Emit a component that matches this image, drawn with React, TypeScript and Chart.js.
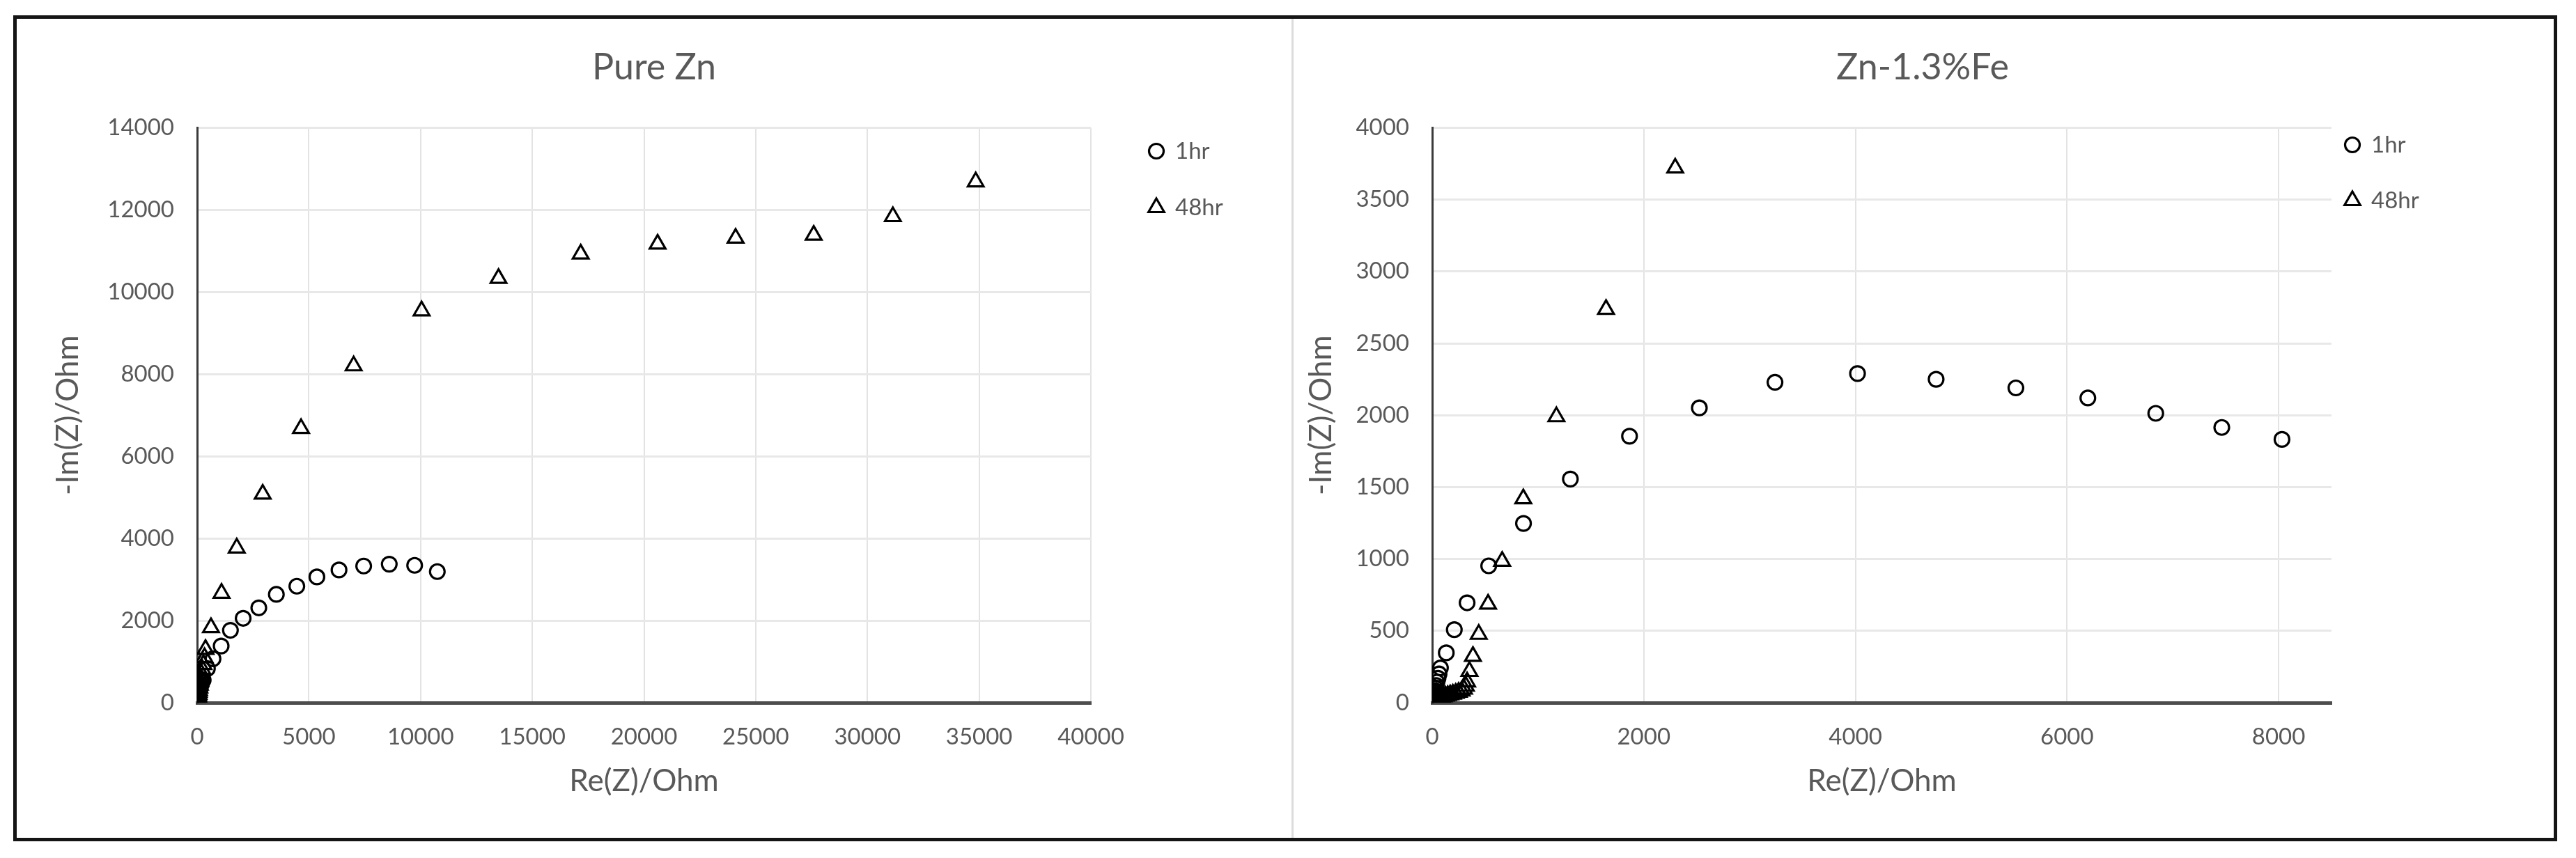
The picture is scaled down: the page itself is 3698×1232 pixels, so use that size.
import React, { useEffect, useRef } from 'react';
import { Chart, registerables } from 'chart.js';

Chart.register(...registerables);

// ---------- Data: Pure Zn ----------
const pureZn1hrRe = [3, 5, 7, 9, 12, 15, 18, 22, 26, 31, 37, 44, 52, 62, 74, 88, 105, 125, 150, 180, 220, 271, 460, 710, 1075, 1490, 2060, 2760, 3545, 4462, 5360, 6350, 7454, 8599, 9735, 10749];
const pureZn1hrIm = [2, 5, 9, 14, 20, 28, 38, 50, 64, 80, 100, 122, 148, 178, 212, 250, 292, 338, 390, 448, 500, 550, 830, 1070, 1380, 1763, 2055, 2310, 2638, 2836, 3062, 3232, 3328, 3373, 3345, 3192];
const pureZn48hrRe = [3, 5, 8, 11, 15, 19, 24, 30, 37, 45, 55, 67, 80, 96, 115, 138, 165, 197, 235, 280, 330, 374, 620, 1092, 1773, 2935, 4650, 7005, 10047, 13488, 17167, 20608, 24100, 27595, 31139, 34846];
const pureZn48hrIm = [3, 8, 15, 25, 38, 55, 75, 100, 130, 165, 205, 250, 300, 360, 430, 510, 600, 700, 810, 930, 1100, 1300, 1830, 2666, 3768, 5080, 6678, 8203, 9542, 10334, 10927, 11169, 11311, 11385, 11836, 12683];

// ---------- Data: Zn-1.3%Fe ----------
const znFe1hrRe = [3, 5, 7, 9, 11, 13, 15, 17, 20, 23, 27, 32, 38, 45, 55, 65, 78, 133, 209, 330, 534, 863, 1306, 1865, 2525, 3240, 4020, 4763, 5517, 6197, 6839, 7463, 8032];
const znFe1hrIm = [2, 5, 9, 14, 20, 27, 35, 44, 55, 68, 83, 100, 120, 143, 170, 200, 242, 347, 508, 695, 952, 1247, 1556, 1854, 2051, 2229, 2290, 2250, 2190, 2120, 2013, 1915, 1832];
const znFe48hrRe = [5, 10, 16, 23, 31, 40, 50, 62, 75, 90, 107, 126, 147, 170, 195, 222, 250, 278, 300, 318, 330, 352, 385, 440, 528, 661, 861, 1174, 1643, 2297];
const znFe48hrIm = [3, 6, 10, 14, 18, 22, 26, 30, 34, 38, 42, 46, 50, 55, 60, 66, 73, 82, 95, 115, 145, 218, 323, 476, 686, 984, 1419, 1990, 2737, 3720];

// ---------- Labels / axes ----------
const seriesLabels = ['1hr', '48hr'];
const chartTitles = ['Pure Zn', 'Zn-1.3%Fe'];
const xAxisTitle = 'Re(Z)/Ohm';
const yAxisTitle = '-Im(Z)/Ohm';
const pureZnXTicks = [0, 5000, 10000, 15000, 20000, 25000, 30000, 35000, 40000];
const pureZnYTicks = [0, 2000, 4000, 6000, 8000, 10000, 12000, 14000];
const znFeXTicks = [0, 2000, 4000, 6000, 8000];
const znFeXMax = 8500;
const znFeYTicks = [0, 500, 1000, 1500, 2000, 2500, 3000, 3500, 4000];

const TEXT = '#595959';
const FONT = 'Lato, "Open Sans", sans-serif';

function zip(xs: number[], ys: number[]) {
  return xs.map((x, i) => ({ x, y: ys[i] }));
}

function drawMarker(ctx: CanvasRenderingContext2D, style: string, x: number, y: number, r: number, bw: number, color: string) {
  ctx.beginPath();
  if (style === 'triangle') {
    let rad = 0;
    for (let k = 0; k < 3; k++) {
      const px = x + Math.sin(rad) * r;
      const py = y - Math.cos(rad) * r;
      if (k === 0) ctx.moveTo(px, py);
      else ctx.lineTo(px, py);
      rad += (2 * Math.PI) / 3;
    }
    ctx.closePath();
  } else {
    ctx.arc(x, y, r, 0, 2 * Math.PI);
  }
  ctx.lineWidth = bw;
  ctx.strokeStyle = color;
  ctx.stroke();
}

const sideLegend = {
  id: 'sideLegend',
  afterDraw(chart: any, _args: any, opts: any) {
    const { ctx, chartArea } = chart;
    ctx.save();
    chart.data.datasets.forEach((ds: any, i: number) => {
      const x = chartArea.right + opts.dx;
      const y = opts.ys[i];
      drawMarker(ctx, ds.pointStyle, x, y, ds.pointRadius, ds.pointBorderWidth, ds.pointBorderColor);
      ctx.fillStyle = TEXT;
      ctx.font = `${opts.fontSize}px ${FONT}`;
      ctx.textBaseline = 'middle';
      ctx.textAlign = 'left';
      ctx.fillText(ds.label, x + opts.textGap, y);
    });
    ctx.restore();
  },
};

type PanelCfg = {
  title: string;
  d1: { x: number; y: number }[];
  d48: { x: number; y: number }[];
  xTicks: number[];
  xMax: number;
  yTicks: number[];
  yWidth: number;
  rightSpace: number;
  yTitlePad: number;
  legendDx: number;
  legendYs: number[];
};

function makeConfig(c: PanelCfg): any {
  const tickFont = { family: FONT, size: 33 };
  const titleFont = { family: FONT, size: 44 };
  return {
    type: 'scatter',
    data: {
      datasets: [
        {
          label: seriesLabels[0],
          data: c.d1,
          pointStyle: 'circle',
          pointRadius: 10.5,
          pointBorderWidth: 3.2,
          pointBorderColor: '#000000',
          pointBackgroundColor: 'rgba(0,0,0,0)',
          borderColor: '#000000',
          backgroundColor: 'rgba(0,0,0,0)',
          showLine: false,
        },
        {
          label: seriesLabels[1],
          data: c.d48,
          pointStyle: 'triangle',
          pointRadius: 13,
          pointBorderWidth: 3.2,
          pointBorderColor: '#000000',
          pointBackgroundColor: 'rgba(0,0,0,0)',
          borderColor: '#000000',
          backgroundColor: 'rgba(0,0,0,0)',
          showLine: false,
        },
      ],
    },
    options: {
      responsive: false,
      animation: false,
      devicePixelRatio: 1,
      layout: { padding: 0 },
      plugins: {
        legend: { display: false },
        tooltip: { enabled: false },
        title: {
          display: true,
          text: c.title,
          color: TEXT,
          font: { family: FONT, size: 52, weight: 'normal', lineHeight: 1.2 },
          padding: { top: 38, bottom: 55 },
        },
        sideLegend: { dx: c.legendDx, ys: c.legendYs, fontSize: 33, textGap: 27 },
      },
      scales: {
        x: {
          type: 'linear',
          min: c.xTicks[0],
          max: c.xMax,
          afterBuildTicks: (s: any) => {
            s.ticks = c.xTicks.map((v) => ({ value: v }));
          },
          ticks: {
            color: TEXT,
            font: tickFont,
            padding: 30,
            maxRotation: 0,
            autoSkip: false,
            callback: (v: any) => String(v),
          },
          grid: { color: '#e3e3e3', lineWidth: 2, drawTicks: false, z: -1 },
          border: { color: '#4d4d4d', width: 5 },
          title: { display: true, text: xAxisTitle, color: TEXT, font: titleFont, padding: { top: 0, bottom: 52 } },
          afterFit: (s: any) => {
            s.height = 191;
          },
        },
        y: {
          type: 'linear',
          min: c.yTicks[0],
          max: c.yTicks[c.yTicks.length - 1],
          afterBuildTicks: (s: any) => {
            s.ticks = c.yTicks.map((v) => ({ value: v }));
          },
          ticks: {
            color: TEXT,
            font: tickFont,
            padding: 33,
            autoSkip: false,
            callback: (v: any) => String(v),
          },
          grid: { color: '#e8e8e8', lineWidth: 3, drawTicks: false, z: -1 },
          border: { color: '#3a3a3a', width: 3 },
          title: { display: true, text: yAxisTitle, color: TEXT, font: titleFont, padding: { top: c.yTitlePad, bottom: 0 } },
          afterFit: (s: any) => {
            s.width = c.yWidth;
          },
        },
        // empty right-hand box that reserves the legend column beside the plot
        legendSpace: {
          type: 'linear',
          position: 'right',
          display: true,
          ticks: { display: false },
          grid: { display: false, drawTicks: false },
          border: { display: false },
          title: { display: false },
          afterFit: (s: any) => {
            s.width = c.rightSpace;
          },
        },
      },
    },
    plugins: [sideLegend],
  };
}

function Panel({ cfg, left, width }: { cfg: PanelCfg; left: number; width: number }) {
  const ref = useRef<HTMLCanvasElement>(null);
  useEffect(() => {
    const chart = new Chart(ref.current as HTMLCanvasElement, makeConfig(cfg));
    return () => chart.destroy();
  }, []);
  return (
    <canvas
      ref={ref}
      width={width}
      height={1172}
      style={{ position: 'absolute', left, top: 28, width, height: 1172, display: 'block' }}
    />
  );
}

const leftCfg: PanelCfg = {
  title: chartTitles[0],
  d1: zip(pureZn1hrRe, pureZn1hrIm),
  d48: zip(pureZn48hrRe, pureZn48hrIm),
  xTicks: pureZnXTicks,
  xMax: pureZnXTicks[pureZnXTicks.length - 1],
  yTicks: pureZnYTicks,
  yWidth: 259,
  rightSpace: 288,
  yTitlePad: 47,
  legendDx: 94,
  legendYs: [189, 270],
};

const rightCfg: PanelCfg = {
  title: chartTitles[1],
  d1: zip(znFe1hrRe, znFe1hrIm),
  d48: zip(znFe48hrRe, znFe48hrIm),
  xTicks: znFeXTicks,
  xMax: znFeXMax,
  yTicks: znFeYTicks,
  yWidth: 198,
  rightSpace: 315,
  yTitlePad: 12,
  legendDx: 30,
  legendYs: [180, 260],
};

export default function App() {
  return (
    <div style={{ position: 'absolute', left: 0, top: 0, width: 3698, height: 1232, background: '#ffffff', overflow: 'hidden' }}>
      <div
        style={{
          position: 'absolute',
          left: 19,
          top: 22,
          width: 3652,
          height: 1186,
          boxSizing: 'border-box',
          border: '5px solid #151515',
        }}
      />
      <div style={{ position: 'absolute', left: 1854, top: 27, width: 3, height: 1176, background: '#dcdcdc' }} />
      <Panel cfg={leftCfg} left={24} width={1830} />
      <Panel cfg={rightCfg} left={1858} width={1804} />
    </div>
  );
}
